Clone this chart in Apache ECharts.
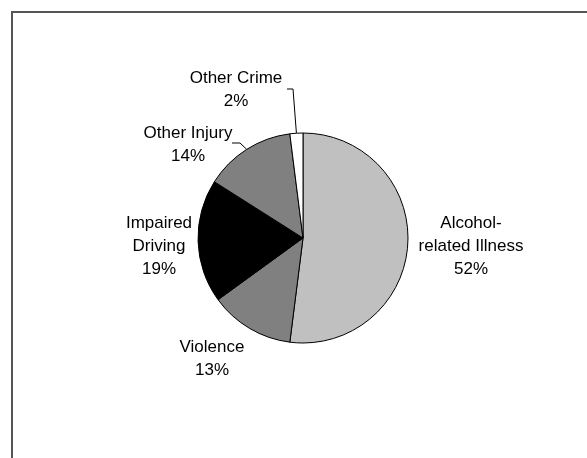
<!DOCTYPE html>
<html>
<head>
<meta charset="utf-8">
<script src="https://cdn.jsdelivr.net/npm/echarts@6/dist/echarts.min.js"></script>
<style>
html,body{margin:0;padding:0;background:#fff;}
#chart{width:587px;height:458px;}
</style>
</head>
<body>
<div id="chart"></div>
<script>
// ---- data ----
const categories = ['Alcohol-\nrelated Illness', 'Violence', 'Impaired\nDriving', 'Other Injury', 'Other Crime'];
const values = [52, 13, 19, 14, 2];
const colors = ['#c0c0c0', '#808080', '#000000', '#808080', '#ffffff'];

// ---- layout (not data) ----
const pieCenter = [303, 238];
const pieRadius = 105;
const labelCenters = [[471, 246], [212, 359], [159, 246], [188, 145], [236, 90]];
const leaderStarts = {3: [[232, 143], [240, 143]], 4: [[287, 89], [293, 89]]};

const total = values.reduce((a, b) => a + b, 0);
function edgePoint(i) {
  let before = 0;
  for (let k = 0; k < i; k++) before += values[k];
  const mid = (before + values[i] / 2) / total * Math.PI * 2;
  return [pieCenter[0] + pieRadius * Math.sin(mid), pieCenter[1] - pieRadius * Math.cos(mid)];
}

const chart = echarts.init(document.getElementById('chart'), null, {renderer: 'canvas'});
const option = {
  backgroundColor: '#ffffff',
  animation: false,
  graphic: [
    {type: 'line', shape: {x1: 11, y1: 12, x2: 587, y2: 12}, style: {stroke: '#555555', lineWidth: 2}},
    {type: 'line', shape: {x1: 12, y1: 11, x2: 12, y2: 458}, style: {stroke: '#555555', lineWidth: 2}}
  ],
  series: [{
    type: 'pie',
    center: pieCenter,
    radius: pieRadius,
    startAngle: 90,
    clockwise: true,
    avoidLabelOverlap: false,
    itemStyle: {borderColor: '#000000', borderWidth: 1},
    label: {
      show: true,
      position: 'outside',
      formatter: p => p.name + '\n' + p.value + '%',
      fontFamily: 'Liberation Sans, Arial, sans-serif',
      fontSize: 17,
      lineHeight: 23,
      color: '#000000',
      align: 'center'
    },
    labelLine: {show: false, lineStyle: {color: '#000000', width: 1}},
    labelLayout: function (params) {
      const i = params.dataIndex;
      const res = {x: labelCenters[i][0], y: labelCenters[i][1], align: 'center', verticalAlign: 'middle'};
      if (leaderStarts[i]) {
        res.labelLinePoints = [edgePoint(i), leaderStarts[i][1], leaderStarts[i][0]];
      }
      return res;
    },
    data: categories.map((c, i) => ({
      name: c,
      value: values[i],
      itemStyle: {color: colors[i]},
      labelLine: {show: !!leaderStarts[i], length: 5, length2: 5}
    }))
  }]
};
chart.setOption(option);
</script>
</body>
</html>
